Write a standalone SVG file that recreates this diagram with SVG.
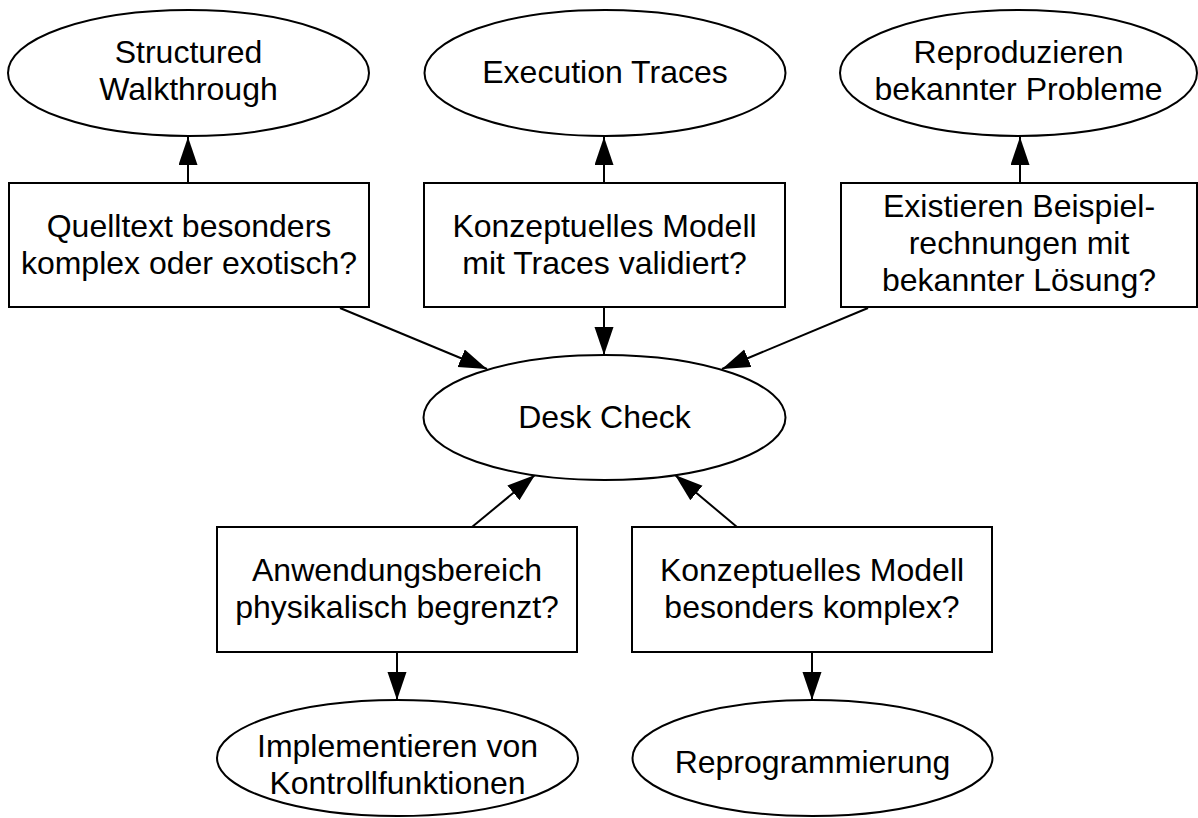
<svg xmlns="http://www.w3.org/2000/svg" width="1198" height="818" viewBox="0 0 1198 818">
  <style>
    .shape { fill: #ffffff; stroke: #000000; stroke-width: 2; }
    .edge { fill: none; stroke: #000000; stroke-width: 2; }
    text { font-family: "Liberation Sans", Arial, sans-serif; font-size: 32px; fill: #000000; text-anchor: middle; }
  </style>
  <defs>
    <marker id="arrow" markerUnits="userSpaceOnUse" markerWidth="30" markerHeight="22" refX="28" refY="9.5" orient="auto">
      <path d="M0,0 L28,9.5 L0,19 Z" fill="#000000"/>
    </marker>
  </defs>

  <rect width="1198" height="818" fill="#ffffff"/>

  <g id="connectors">
    <line class="edge" x1="188" y1="183" x2="188" y2="137" marker-end="url(#arrow)"/>
    <line class="edge" x1="604" y1="183" x2="604" y2="137" marker-end="url(#arrow)"/>
    <line class="edge" x1="1020" y1="183" x2="1020" y2="137" marker-end="url(#arrow)"/>
    <line class="edge" x1="340" y1="308" x2="487" y2="369" marker-end="url(#arrow)"/>
    <line class="edge" x1="604" y1="308" x2="604" y2="355" marker-end="url(#arrow)"/>
    <line class="edge" x1="868" y1="308" x2="722" y2="369" marker-end="url(#arrow)"/>
    <line class="edge" x1="472" y1="527" x2="535" y2="475" marker-end="url(#arrow)"/>
    <line class="edge" x1="737" y1="527" x2="675" y2="475" marker-end="url(#arrow)"/>
    <line class="edge" x1="397" y1="652" x2="397" y2="700" marker-end="url(#arrow)"/>
    <line class="edge" x1="812" y1="652" x2="812" y2="700" marker-end="url(#arrow)"/>
  </g>

  <g id="structured-walkthrough">
    <ellipse class="shape" cx="188.5" cy="73" rx="180.5" ry="63"/>
    <text x="188.5" y="63">Structured</text>
    <text x="188.5" y="100">Walkthrough</text>
  </g>

  <g id="execution-traces">
    <ellipse class="shape" cx="605" cy="73" rx="180.5" ry="63"/>
    <text x="605" y="83">Execution Traces</text>
  </g>

  <g id="reproduzieren">
    <ellipse class="shape" cx="1018.5" cy="73" rx="178.5" ry="63"/>
    <text x="1018.5" y="63">Reproduzieren</text>
    <text x="1018.5" y="100">bekannter Probleme</text>
  </g>

  <g id="quelltext-komplex">
    <rect class="shape" x="9" y="183" width="360" height="124"/>
    <text x="189" y="237">Quelltext besonders</text>
    <text x="189" y="274">komplex oder exotisch?</text>
  </g>

  <g id="modell-validiert">
    <rect class="shape" x="424" y="183" width="361" height="124"/>
    <text x="604.5" y="237">Konzeptuelles Modell</text>
    <text x="604.5" y="274">mit Traces validiert?</text>
  </g>

  <g id="beispielrechnungen">
    <rect class="shape" x="841" y="183" width="356" height="124"/>
    <text x="1019" y="217">Existieren Beispiel-</text>
    <text x="1019" y="254">rechnungen mit</text>
    <text x="1019" y="291">bekannter Lösung?</text>
  </g>

  <g id="desk-check">
    <ellipse class="shape" cx="604.5" cy="417.5" rx="181" ry="62.5"/>
    <text x="604.5" y="428">Desk Check</text>
  </g>

  <g id="anwendungsbereich">
    <rect class="shape" x="217" y="527" width="360" height="125"/>
    <text x="397" y="581">Anwendungsbereich</text>
    <text x="397" y="618">physikalisch begrenzt?</text>
  </g>

  <g id="modell-komplex">
    <rect class="shape" x="632" y="527" width="360" height="125"/>
    <text x="812" y="581">Konzeptuelles Modell</text>
    <text x="812" y="618">besonders komplex?</text>
  </g>

  <g id="kontrollfunktionen">
    <ellipse class="shape" cx="397.5" cy="758" rx="180.5" ry="58"/>
    <text x="397.5" y="757">Implementieren von</text>
    <text x="397.5" y="794">Kontrollfunktionen</text>
  </g>

  <g id="reprogrammierung">
    <ellipse class="shape" cx="812.5" cy="758" rx="180" ry="58"/>
    <text x="812.5" y="773">Reprogrammierung</text>
  </g>
</svg>
